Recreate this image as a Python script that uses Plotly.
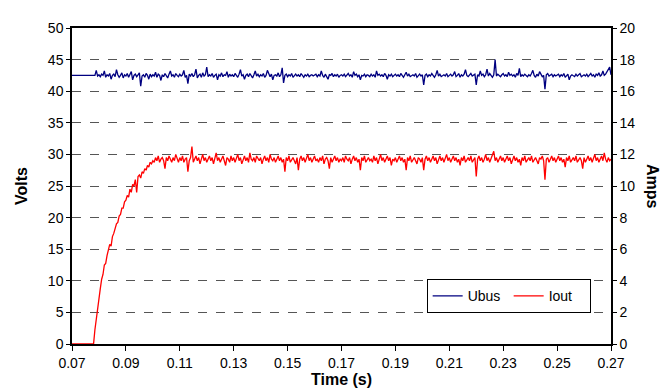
import plotly.graph_objects as go

t_start = 0.07
t_step = 0.0005

ubus_volts = [
    42.5,42.5,42.5,42.5,42.5,42.5,42.5,42.5,42.5,42.5,42.5,42.5,42.5,42.5,42.4,42.5,42.5,42.5,43.3,42.4,
    42.6,42.3,42.7,42.5,43.2,42.2,42.6,42.4,42.8,41.9,42.5,42.7,42.3,43.4,42.6,42.2,42.5,42.9,42.1,42.6,
    42.4,42.8,42.2,42.6,43.1,41.8,42.5,42.7,42.3,42.6,42.9,40.8,42.4,42.6,42.2,42.8,42.5,41.9,42.7,42.3,
    42.6,42.4,43.0,42.2,42.7,42.5,41.7,42.6,42.3,42.8,42.5,42.1,42.7,43.2,42.4,42.6,42.2,42.8,42.5,42.3,
    42.7,42.4,42.6,43.3,42.2,42.5,41.2,42.7,42.4,42.8,42.3,42.6,43.5,42.1,42.5,42.7,42.2,42.9,42.4,42.6,
    43.8,42.3,42.6,42.4,42.8,42.2,42.5,42.7,41.8,42.6,42.4,42.9,42.3,42.6,42.5,43.1,42.2,42.7,42.4,42.6,
    42.3,42.8,42.5,42.2,42.7,43.4,42.4,42.6,41.9,42.5,42.7,42.3,42.8,42.5,42.1,42.6,43.2,42.4,42.7,42.3,
    42.6,42.4,42.8,42.2,42.5,43.3,42.6,42.3,42.7,41.8,42.5,42.6,42.4,42.9,42.3,42.6,43.7,41.3,42.5,42.7,
    42.3,42.6,42.4,42.8,42.2,42.5,42.7,42.4,42.6,42.3,42.8,42.5,42.2,42.6,42.4,42.7,42.3,42.5,42.6,42.4,
    42.5,42.7,42.3,42.6,42.4,43.2,42.5,42.2,42.7,42.4,41.9,42.6,42.5,42.8,42.3,42.6,42.4,42.7,42.2,42.5,
    42.6,42.4,42.7,42.3,42.5,42.8,42.4,42.6,42.2,43.1,42.5,42.7,42.3,42.6,41.8,42.5,42.4,42.7,42.3,42.6,
    42.5,42.3,42.7,42.4,42.6,42.2,43.2,42.5,42.7,42.4,42.6,42.3,42.8,42.5,41.9,42.6,42.4,42.7,42.3,42.5,
    42.7,42.4,42.6,42.3,42.8,42.5,42.2,42.6,43.0,42.4,42.7,42.3,42.5,42.6,42.4,42.8,42.2,42.5,42.7,42.4,
    42.6,41.0,42.5,42.7,42.3,42.6,42.4,42.8,42.5,42.2,42.6,43.3,42.4,42.7,42.3,42.5,42.6,42.4,42.8,42.3,
    42.5,42.7,42.4,42.6,43.1,42.3,42.5,42.8,42.2,42.6,42.4,42.7,43.4,42.5,42.3,42.6,42.8,42.4,42.5,42.7,
    41.0,42.6,42.4,43.2,42.5,42.7,42.3,42.6,43.5,42.4,42.8,42.5,42.2,42.6,45.0,42.4,42.7,42.5,42.3,42.6,
    42.8,42.4,42.6,42.3,43.0,42.5,42.7,42.4,42.6,42.2,42.8,42.5,43.6,42.3,42.6,42.4,42.7,42.5,42.3,42.6,
    42.4,42.8,43.3,42.5,42.2,42.7,42.4,43.1,42.6,42.3,42.5,40.3,42.6,42.8,42.4,42.5,42.7,42.3,42.6,42.4,
    42.5,42.7,42.3,42.6,42.4,42.8,42.2,42.5,42.7,41.8,42.4,42.6,42.5,42.3,42.7,42.4,42.6,42.8,42.3,42.5,
    42.6,42.4,42.7,42.3,42.5,42.8,42.4,42.6,42.2,42.7,42.5,42.9,42.4,42.6,43.2,42.5,42.7,43.0,43.5,43.8,
    42.6,
]

iout_amps = [
    0.0,0.0,0.0,0.0,0.0,0.0,0.0,0.0,0.0,0.0,0.0,0.0,0.0,0.0,0.0,0.0,0.0,0.9,1.6,2.4,
    3.0,3.5,4.1,4.4,5.0,5.1,5.6,5.9,6.3,6.2,6.8,7.0,7.3,7.6,7.7,8.1,8.2,8.6,8.6,9.0,
    9.1,9.4,9.3,9.8,9.6,10.1,10.0,10.4,9.6,10.6,10.7,10.5,10.9,10.8,11.1,11.0,11.3,11.2,11.5,11.4,
    11.6,11.5,11.8,11.6,11.9,11.5,11.7,11.8,11.6,11.1,11.8,11.6,11.9,11.7,11.5,11.8,11.6,12.0,11.7,11.5,
    11.8,11.6,11.9,11.5,11.7,11.8,10.9,11.6,11.8,12.5,11.5,11.7,11.9,11.6,11.8,11.4,11.7,12.0,11.6,11.8,
    11.5,11.7,11.9,11.6,11.8,11.4,11.7,12.1,11.6,11.8,11.5,11.7,11.9,11.6,11.3,11.8,11.7,11.5,11.9,11.6,
    11.8,11.5,11.7,12.0,11.6,11.8,11.4,11.7,11.9,11.6,11.8,11.5,12.1,11.7,11.6,11.8,11.5,11.9,11.7,11.6,
    11.8,11.4,11.7,11.9,11.6,11.8,11.5,12.0,11.7,11.6,11.8,11.5,11.7,11.9,11.6,11.8,11.5,11.7,10.9,11.8,
    11.6,11.9,11.5,11.7,11.8,11.6,11.4,11.8,11.0,11.7,11.9,11.6,11.8,11.5,11.7,12.0,11.6,11.8,11.5,11.7,
    11.9,11.6,11.7,11.5,11.8,11.6,11.9,11.4,11.7,11.8,11.6,11.1,11.8,11.5,11.7,11.9,11.6,11.8,11.5,11.7,
    11.6,11.8,11.5,11.9,11.7,11.6,11.8,11.4,11.7,11.9,11.6,11.8,11.5,11.7,11.0,11.8,11.6,11.9,11.5,11.7,
    11.8,11.6,11.7,11.5,11.9,11.6,11.8,11.4,11.7,12.0,11.6,11.8,11.5,11.7,11.9,11.6,11.8,11.3,11.7,11.6,
    11.8,11.5,11.7,11.9,11.6,11.8,11.5,11.7,11.0,11.8,11.6,11.9,11.5,11.7,11.8,11.6,11.4,11.8,11.7,11.5,
    11.8,11.0,11.7,11.9,11.6,11.8,11.5,11.7,11.9,11.6,11.8,11.4,11.7,11.9,11.6,11.8,11.5,11.7,12.0,11.6,
    11.8,11.5,11.7,11.9,11.6,11.8,11.5,11.7,11.3,11.8,11.6,11.9,11.5,11.7,11.8,11.6,11.9,11.5,11.7,11.8,
    10.6,11.7,11.9,11.6,11.8,11.5,11.7,12.0,11.6,11.8,11.5,11.7,11.9,12.2,11.6,11.8,11.5,11.7,11.9,11.6,
    11.8,11.5,11.7,11.9,11.6,11.8,11.4,11.7,11.9,11.6,11.8,11.5,11.7,11.3,11.8,11.6,11.9,11.5,11.7,11.8,
    11.6,11.9,11.5,11.7,11.8,11.6,11.4,11.8,11.7,11.9,11.6,10.4,11.7,11.8,11.5,11.7,11.9,11.6,11.8,11.5,
    11.7,11.9,11.6,11.8,11.5,11.7,11.2,11.8,11.6,11.9,11.5,11.7,11.8,11.6,11.9,11.5,11.7,11.8,11.6,11.1,
    11.8,11.5,11.7,11.9,11.6,11.8,11.5,11.7,12.0,11.6,11.8,11.5,11.7,11.9,11.6,12.1,11.7,11.5,11.8,11.6,
    11.7,
]

time_s = [round(t_start + i * t_step, 4) for i in range(len(ubus_volts))]

x_ticks = [0.07, 0.09, 0.11, 0.13, 0.15, 0.17, 0.19, 0.21, 0.23, 0.25, 0.27]
x_tick_labels = ["0.07", "0.09", "0.11", "0.13", "0.15", "0.17", "0.19", "0.21", "0.23", "0.25", "0.27"]

FONT = "Liberation Sans, Arial, sans-serif"

fig = go.Figure()
fig.add_trace(go.Scatter(x=time_s, y=ubus_volts, name="Ubus", mode="lines",
                         line=dict(color="#000080", width=1.3), yaxis="y"))
fig.add_trace(go.Scatter(x=time_s, y=iout_amps, name="Iout", mode="lines",
                         line=dict(color="#FF0000", width=1.3), yaxis="y2"))

fig.update_layout(
    width=668, height=390,
    margin=dict(l=64, r=65, t=16, b=50),
    paper_bgcolor="white", plot_bgcolor="white",
    font=dict(family=FONT, size=14, color="black"),
    showlegend=True,
    legend=dict(orientation="h", x=0.658, y=0.205, xanchor="left", yanchor="top",
                bordercolor="black", borderwidth=1, bgcolor="white",
                font=dict(size=14), entrywidth=36, tracegroupgap=0,
                itemwidth=30),
    xaxis=dict(range=[0.07, 0.27], tickvals=x_ticks, ticktext=x_tick_labels,
               showline=True, linecolor="black", linewidth=1.5, mirror=True,
               ticks="outside", ticklen=5, tickcolor="black", showgrid=False,
               zeroline=False, layer="above traces",
               title=dict(text="<b>Time (s)</b>", font=dict(size=16), standoff=4)),
    yaxis=dict(range=[0, 50], dtick=5, showline=True, linecolor="black", linewidth=1.5,
               ticks="outside", ticklen=4, tickcolor="black",
               showgrid=True, gridcolor="#555555", griddash="dash", gridwidth=1,
               zeroline=False,
               title=dict(text="<b>Volts</b>", font=dict(size=16), standoff=16)),
    yaxis2=dict(range=[0, 20], dtick=2, overlaying="y", side="right", showline=True,
                linecolor="black", linewidth=1.5, ticks="outside", ticklen=4,
                tickcolor="black", showgrid=False, zeroline=False),
    annotations=[dict(text="<b>Amps</b>", xref="paper", yref="paper", x=1.078, y=0.5,
                      xanchor="center", yanchor="middle",
                      textangle=90, showarrow=False, font=dict(size=16))],
)

fig.write_html("out.html")
